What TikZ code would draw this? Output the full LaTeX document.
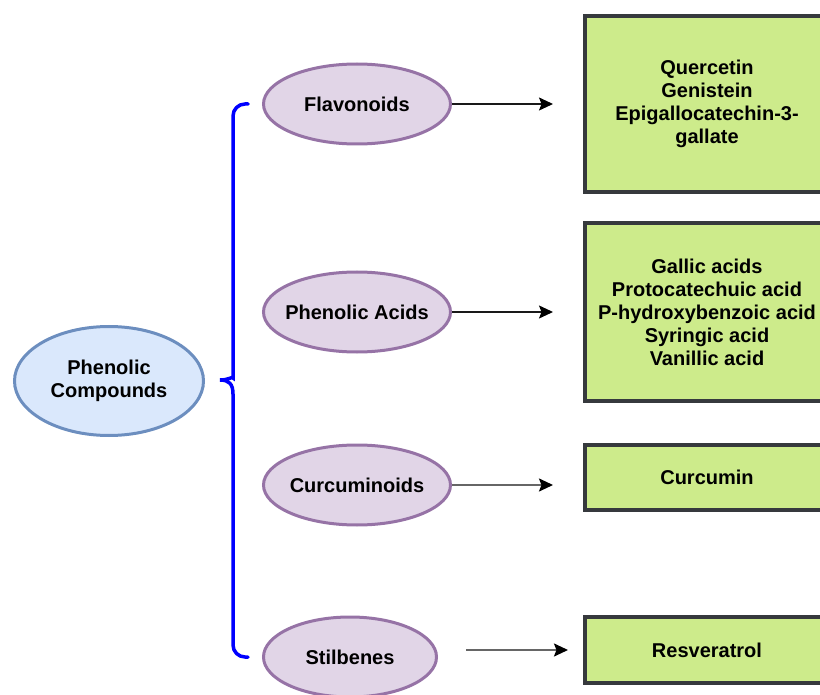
\documentclass[tikz,border=0pt]{standalone}
\usepackage{fontspec}
\setmainfont{Liberation Sans}
\usepackage{tikz}
\usetikzlibrary{shapes.geometric}
\usetikzlibrary{arrows.meta}
\definecolor{cmpfill}{HTML}{DAE8FC}
\definecolor{cmpdraw}{HTML}{6C8EBF}
\definecolor{clsfill}{HTML}{E1D5E7}
\definecolor{clsdraw}{HTML}{9673A6}
\definecolor{exfill}{HTML}{CDEB8B}
\definecolor{exdraw}{HTML}{36393D}
\definecolor{bracecol}{HTML}{0000FF}
\tikzset{
  every node/.style={font=\bfseries\fontsize{20}{23}\selectfont, align=center},
  compound/.style={ellipse, draw=cmpdraw, fill=cmpfill, line width=3pt,
    minimum width=189pt, minimum height=109pt, inner sep=0pt},
  class/.style={ellipse, draw=clsdraw, fill=clsfill, line width=3pt,
    minimum width=187pt, minimum height=80pt, inner xsep=-8pt, inner ysep=0pt},
  examples/.style={rectangle, draw=exdraw, fill=exfill, line width=3.5pt,
    minimum width=244pt, inner sep=0pt},
  bracket/.style={draw=bracecol, line width=3.5pt, line cap=round},
  arr/.style={-{Stealth[length=14pt,width=13pt,inset=2.5pt,color=black,fill=black]},
    line width=1.5pt, draw=black!90},
  grayarr/.style={arr, draw=gray!80!black, line width=2pt},
}

\begin{document}
\begin{tikzpicture}[x=1pt, y=-1pt]
    \path[use as bounding box, clip] (0,0) rectangle (820,695);
    % classes
    \node[compound] (cmp) at (109,381) {Phenolic\\Compounds};
    \node[class] (fla) at (357,104) {Flavonoids};
    \node[class] (aci) at (357,312) {Phenolic Acids};
    \node[class] (cur) at (357,485) {Curcuminoids};
    \node[class, minimum width=173pt] (sti) at (350,657) {Stilbenes};
    % examples
    \node[examples, minimum height=176pt] (ex1) at (707,104)
        {Quercetin\\Genistein\\Epigallocatechin-3-\\gallate};
    \node[examples, minimum height=178pt] (ex2) at (707,312)
        {Gallic acids\\Protocatechuic acid\\P-hydroxybenzoic acid\\Syringic acid\\Vanillic acid};
    \node[examples, minimum height=65pt] (ex3) at (707,477.5) {Curcumin};
    \node[examples, minimum height=66pt] (ex4) at (707,650) {Resveratrol};
    % arrow ends
    \coordinate (fla-to) at (553,104);
    \coordinate (aci-to) at (553,312);
    \coordinate (cur-to) at (553,485);
    \coordinate (sti-from) at (466,650);
    \coordinate (sti-to) at (568,650);
    % brace
    \coordinate (br-top) at (248,104);
    \coordinate (br-tip) at (220,380);
    \coordinate (br-bot) at (248,657);
    \draw[bracket, rounded corners=12pt] (br-top) -- (233,104) -- (233,366)
        [sharp corners] .. controls (233,376) and (229,380) .. (br-tip)
        .. controls (229,380) and (233,384) .. (233,394)
        [rounded corners=12pt] -- (233,657) -- (br-bot);
    % arrows
    \draw[arr] (fla.east) -- (fla-to);
    \draw[arr] (aci.east) -- (aci-to);
    \draw[grayarr] (cur.east) -- (cur-to);
    \draw[grayarr] (sti-from) -- (sti-to);
\end{tikzpicture}
\end{document}
